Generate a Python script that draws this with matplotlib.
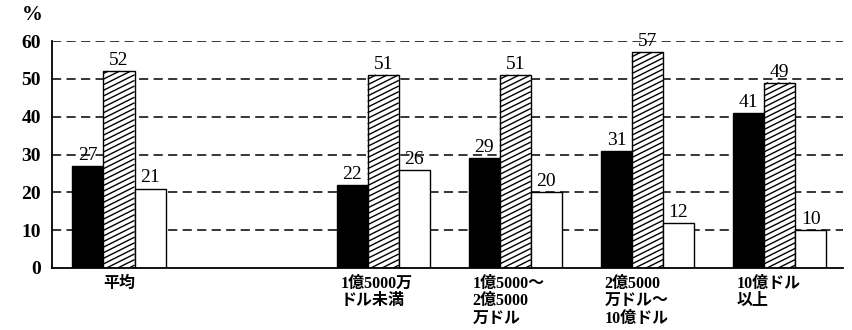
import numpy as np
import matplotlib
matplotlib.use("Agg")
import matplotlib.pyplot as plt
from matplotlib.collections import LineCollection
from matplotlib.transforms import blended_transform_factory

plt.rcParams['font.family'] = ['Liberation Serif', 'Noto Sans CJK JP', 'DejaVu Sans']

# Company size groups (the blank slot after 平均 separates the average)
categories = ["平均", "1億5000万\nドル未満", "1億5000～\n2億5000\n万ドル",
              "2億5000\n万ドル～\n10億ドル", "10億ドル\n以上"]
positions = [0, 2, 3, 4, 5]

series_black = [27, 22, 29, 31, 41]
series_hatched = [52, 51, 51, 57, 49]
series_white = [21, 26, 20, 12, 10]

yticks = [0, 10, 20, 30, 40, 50, 60]

W, H = 853, 330
fig = plt.figure(figsize=(W / 100, H / 100), dpi=100)
ax = fig.add_axes([52 / W, 62 / H, 791 / W, 227 / H])

xmin, xmax = -0.507, 5.48
ax.set_xlim(xmin, xmax)
ax.set_ylim(0, 60)

bw = 0.235
pos = np.array(positions, dtype=float)
common = dict(width=bw, edgecolor='black', linewidth=1.0, zorder=3)
b1 = ax.bar(pos - bw, series_black, color='black', **common)
b2 = ax.bar(pos, series_hatched, color='white', **common)
b3 = ax.bar(pos + bw, series_white, color='white', **common)

# Shallow diagonal hatching, each stroke trimmed to its bar's rectangle
sx = 791 / (xmax - xmin)      # pixels per x unit
sy = 227 / 60                 # pixels per y unit
slope = 0.5                   # pixel rise per pixel run
step = 5.6                    # vertical spacing in pixels
for rect in b2.patches:
    x0, w, h = rect.get_x(), rect.get_width(), rect.get_height()
    wpx, hpx = w * sx, h * sy
    segs = []
    c = -slope * wpx + step / 2
    while c < hpx:
        xa = max(0.0, -c / slope)
        xb = min(wpx, (hpx - c) / slope)
        if xb > xa:
            segs.append([(x0 + xa / sx, (c + slope * xa) / sy),
                         (x0 + xb / sx, (c + slope * xb) / sy)])
        c += step
    ax.add_collection(LineCollection(segs, colors='black', linewidths=1.0,
                                     zorder=3.5))

# Value labels above each bar
for bars, vals in ((b1, series_black), (b2, series_hatched), (b3, series_white)):
    for rect, v in zip(bars.patches, vals):
        ax.annotate(f"{v}", (rect.get_x() + rect.get_width() / 2, v),
                    xytext=(0, 1.5), textcoords='offset points',
                    ha='center', va='bottom', fontsize=14, zorder=5)

# Axes styling
for s in ('top', 'right'):
    ax.spines[s].set_visible(False)
for s in ('left', 'bottom'):
    ax.spines[s].set_linewidth(1.3)
    ax.spines[s].set_zorder(6)

ax.set_yticks(yticks)
ax.set_yticklabels([str(t) for t in yticks], fontsize=14, fontweight='bold')
ax.tick_params(axis='y', length=0, pad=8)
ax.set_xticks([])
for t in yticks[1:]:
    ax.axhline(t, color='black', linewidth=1.1, dashes=(6, 3.5), zorder=1)

# Category labels under the axis
trans = blended_transform_factory(ax.transData, ax.transAxes)
for i, (p, lab) in enumerate(zip(positions, categories)):
    if i == 0:
        ax.text(p, -0.035, lab, transform=trans, ha='center', va='top',
                fontsize=11.5, linespacing=1.12, fontweight='bold')
    else:
        ax.text(p - 1.5 * bw + 0.03, -0.035, lab, transform=trans, ha='left',
                va='top', fontsize=11.5, linespacing=1.12, fontweight='bold',
                multialignment='left')

fig.text(32 / W, 1 - 15 / H, "%", ha='center', va='center', fontsize=15,
         fontweight='bold')

fig.savefig("out.png", dpi=100)
